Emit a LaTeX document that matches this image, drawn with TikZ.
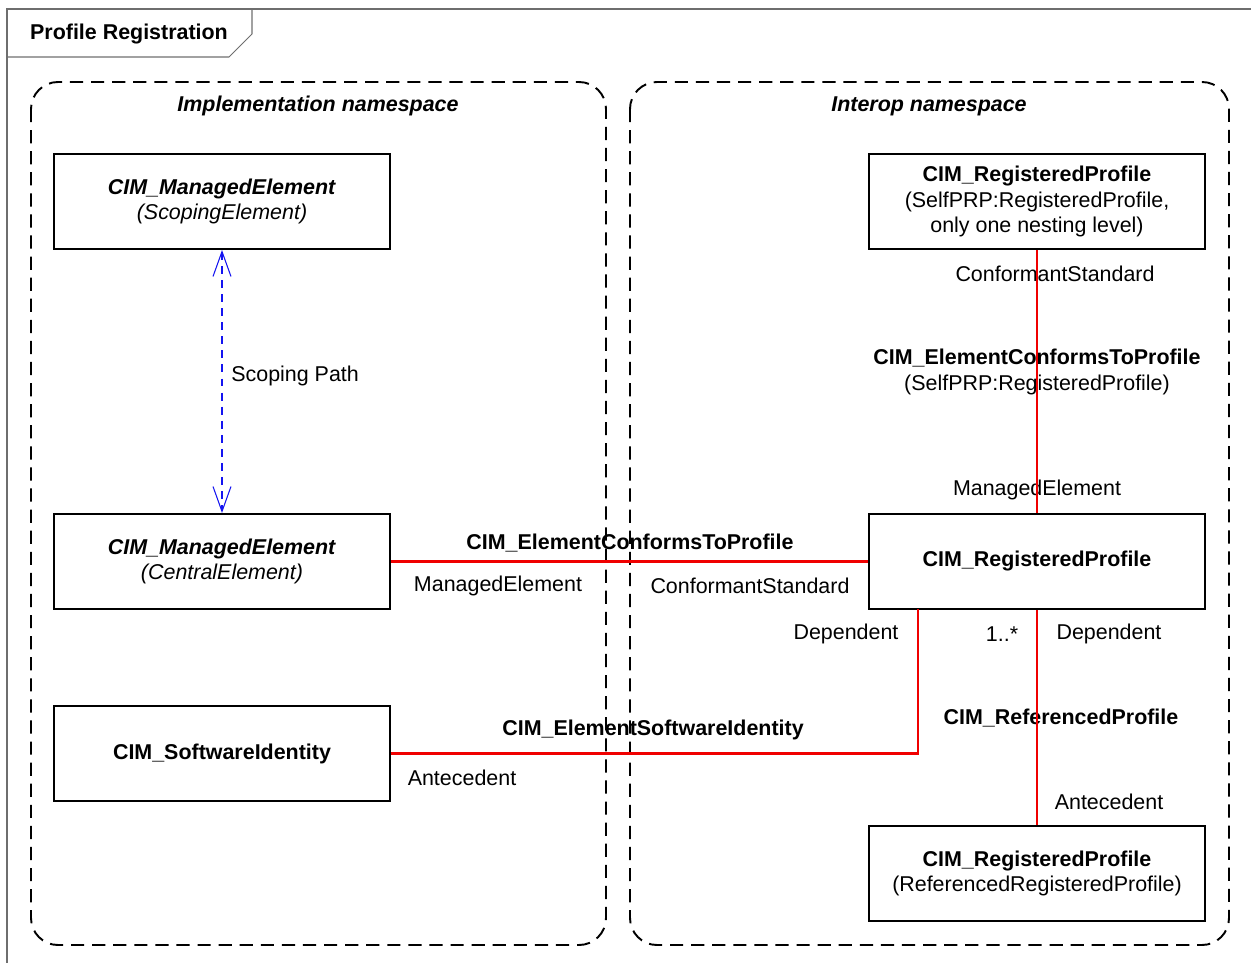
\documentclass[tikz,border=0pt]{standalone}
\usepackage{fontspec}
\setmainfont{Liberation Sans}
\usetikzlibrary{positioning,arrows.meta}
\definecolor{linkred}{RGB}{240,0,0}
\definecolor{pathblue}{RGB}{20,20,240}
\definecolor{framegrey}{RGB}{110,110,110}
\newcommand{\umlsize}{\fontsize{12.2}{14.7}\selectfont}
\tikzset{
    classbox/.style={
        draw,
        line width=1.1pt,
        align=center,
        inner sep=0pt,
        font=\umlsize,
        minimum width=6.72cm,
        minimum height=1.9cm
    },
    nsbox/.style={
        draw,
        line width=1.1pt,
        dash pattern=on 7.5pt off 4.5pt,
        rounded corners=0.54cm
    },
    nstitle/.style={
        font=\umlsize\bfseries\itshape,
        inner sep=0pt,
        yshift=-0.04cm
    },
    assoclabel/.style={
        font=\umlsize\bfseries,
        align=center,
        inner sep=0pt,
        yshift=-0.04cm
    },
    rolelabel/.style={
        font=\umlsize,
        inner sep=0pt,
        yshift=-0.04cm
    },
    thicklink/.style={linkred, line width=1.2pt},
    thinlink/.style={linkred, line width=0.6pt},
    scoping/.style={
        pathblue, line width=0.6pt,
        dash pattern=on 4.5pt off 3.5pt,
        {Straight Barb[length=0.5cm,width=0.36cm]}-{Straight Barb[length=0.5cm,width=0.36cm]}
    }
}

\begin{document}
\begin{tikzpicture}[x=0.02cm, y=-0.02cm]

\useasboundingbox (0,0) rectangle (1251,963);

% Frame with its tab
\draw[framegrey, line width=0.6pt] (1251,9) -- (7,9) -- (7,963);
\draw[framegrey, line width=0.6pt] (7,57) -- (229,57) -- (252,34) -- (252,9);
\node[font=\umlsize\bfseries, inner sep=0pt, yshift=-0.05cm] (frametitle) at (129,32) {Profile Registration};

% Namespaces
\draw[nsbox] (31,82) rectangle (606,945);
\draw[nsbox] (630,82) rectangle (1229,945);
\node[nstitle] (implns) at (318,104) {Implementation namespace};
\node[nstitle] (interopns) at (929,104) {Interop namespace};

% Classes, implementation side
\node[classbox] (scopeme) at (222,201.5) {\textbf{\itshape CIM\_ManagedElement}\\\itshape (ScopingElement)};
\node[classbox] (centralme) at (222,561.5) {\textbf{\itshape CIM\_ManagedElement}\\\itshape (CentralElement)};
\node[classbox] (swid) at (222,753.5) {\textbf{CIM\_SoftwareIdentity}};

% Classes, interop side
\node[classbox] (selfrp) at (1037,201.5) {\textbf{CIM\_RegisteredProfile}\\(SelfPRP:RegisteredProfile,\\only one nesting level)};
\node[classbox] (regprof) at (1037,561.5) {\textbf{CIM\_RegisteredProfile}};
\node[classbox] (refrp) at (1037,873.5) {\textbf{CIM\_RegisteredProfile}\\(ReferencedRegisteredProfile)};

% Labels
\node[rolelabel, anchor=west] (scopelbl) at (231,374) {Scoping Path};
\node[assoclabel] (ectplbl) at (630,541) {CIM\_ElementConformsToProfile};
\node[rolelabel] (melbl) at (498,584) {ManagedElement};
\node[rolelabel] (cslbl) at (750,584) {ConformantStandard};
\node[assoclabel] (esilbl) at (653,728) {CIM\_ElementSoftwareIdentity};
\node[rolelabel] (antelbl) at (462,776) {Antecedent};
\node[rolelabel] (deplbl) at (846,632) {Dependent};
\node[rolelabel] (multlbl) at (1002,632) {1..*};
\node[rolelabel] (refdeplbl) at (1109,632) {Dependent};
\node[assoclabel] (reflbl) at (1061,716) {CIM\_ReferencedProfile};
\node[rolelabel] (refantelbl) at (1109,800) {Antecedent};
\node[rolelabel] (selfcslbl) at (1055,272) {ConformantStandard};
\node[assoclabel] (selfectplbl) at (1037,370) {CIM\_ElementConformsToProfile\\\mdseries(SelfPRP:RegisteredProfile)};
\node[rolelabel] (selfmelbl) at (1037,488) {ManagedElement};

% Connectors
\draw[scoping] (scopeme.south) -- (centralme.north);
\draw[thicklink] (centralme.east) -- (regprof.west);
\coordinate (depend) at (918,609);
\draw[thicklink] (swid.east) -| (depend);
\draw[thinlink] (selfrp.south) -- (regprof.north);
\draw[thinlink] (regprof.south) -- (refrp.north);

\end{tikzpicture}
\end{document}
